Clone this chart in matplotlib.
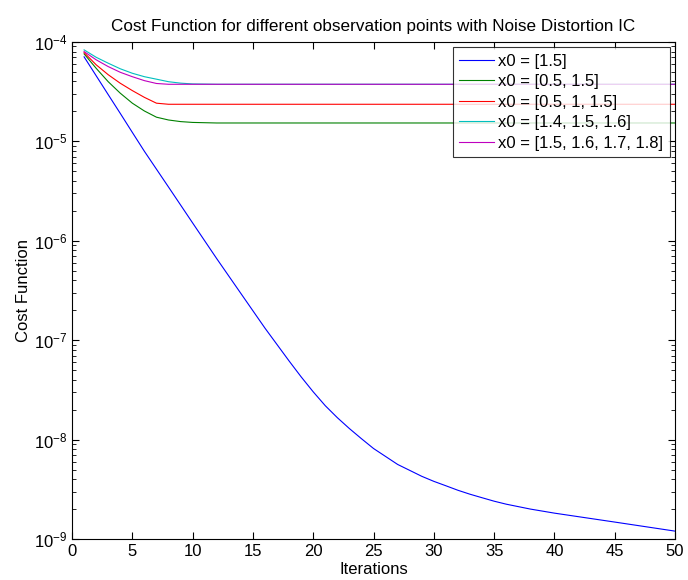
import matplotlib
matplotlib.use('Agg')
import matplotlib.pyplot as plt
from matplotlib.ticker import LogLocator, FixedLocator

plt.rcParams['font.family'] = ['Liberation Sans', 'DejaVu Sans']
plt.rcParams['mathtext.fontset'] = 'custom'
plt.rcParams['mathtext.rm'] = 'Liberation Sans'

it_blue = [1, 2, 3, 4, 5, 6, 7, 8, 9, 10, 12, 14, 16, 18, 19, 20, 21, 22, 23, 24, 25, 26, 27, 28, 29,
           30, 31, 32, 33, 34, 35, 36, 38, 40, 45, 50]
cost_blue = [7.08e-5, 4.57e-5, 2.95e-5, 1.91e-5, 1.23e-5, 7.94e-6, 5.25e-6, 3.47e-6, 2.29e-6, 1.51e-6,
             6.6e-7, 2.95e-7, 1.32e-7, 6.17e-8, 4.27e-8, 3.02e-8, 2.19e-8, 1.66e-8, 1.29e-8, 1.02e-8,
             8.13e-9, 6.76e-9, 5.62e-9, 4.9e-9, 4.27e-9, 3.8e-9, 3.43e-9, 3.09e-9, 2.82e-9, 2.6e-9,
             2.4e-9, 2.24e-9, 2.0e-9, 1.82e-9, 1.48e-9, 1.2e-9]

it_green = [1, 2, 3, 4, 5, 6, 7, 8, 9, 10, 12, 20, 30, 40, 50]
cost_green = [7.59e-5, 5.43e-5, 3.98e-5, 3.05e-5, 2.42e-5, 2.02e-5, 1.75e-5, 1.64e-5, 1.58e-5, 1.55e-5,
              1.53e-5, 1.53e-5, 1.53e-5, 1.53e-5, 1.53e-5]

it_red = [1, 2, 3, 4, 5, 6, 7, 8, 10, 20, 30, 40, 50]
cost_red = [7.82e-5, 5.89e-5, 4.68e-5, 3.84e-5, 3.24e-5, 2.77e-5, 2.42e-5, 2.36e-5, 2.36e-5,
            2.36e-5, 2.36e-5, 2.36e-5, 2.36e-5]

it_cyan = [1, 2, 3, 4, 5, 6, 7, 8, 9, 10, 12, 20, 30, 40, 50]
cost_cyan = [8.32e-5, 7.01e-5, 6.11e-5, 5.37e-5, 4.84e-5, 4.47e-5, 4.22e-5, 3.98e-5, 3.85e-5, 3.78e-5,
             3.75e-5, 3.75e-5, 3.75e-5, 3.75e-5, 3.75e-5]

it_mag = [1, 2, 3, 4, 5, 6, 7, 8, 10, 20, 30, 40, 50]
cost_mag = [8.0e-5, 6.61e-5, 5.65e-5, 4.95e-5, 4.47e-5, 4.08e-5, 3.82e-5, 3.75e-5, 3.75e-5,
            3.75e-5, 3.75e-5, 3.75e-5, 3.75e-5]

labels = ['x0 = [1.5]', 'x0 = [0.5, 1.5]', 'x0 = [0.5, 1, 1.5]',
          'x0 = [1.4, 1.5, 1.6]', 'x0 = [1.5, 1.6, 1.7, 1.8]']

fig = plt.figure(figsize=(6.88, 5.8), dpi=100)
ax = fig.add_axes([0.1047, 0.0707, 0.8765, 0.857])

lw = 0.8
ax.semilogy(it_blue, cost_blue, color=(0, 0, 1), lw=lw, label=labels[0])
ax.semilogy(it_green, cost_green, color=(0, 0.5, 0), lw=lw, label=labels[1])
ax.semilogy(it_red, cost_red, color=(1, 0, 0), lw=lw, label=labels[2])
ax.semilogy(it_cyan, cost_cyan, color=(0, 0.75, 0.75), lw=lw, label=labels[3])
ax.semilogy(it_mag, cost_mag, color=(0.75, 0, 0.75), lw=lw, label=labels[4])

ax.set_xlim(0, 50)
ax.set_ylim(1e-9, 1e-4)
ax.xaxis.set_major_locator(FixedLocator(range(0, 51, 5)))
ax.yaxis.set_major_locator(LogLocator(base=10, numticks=10))
ax.yaxis.set_minor_locator(LogLocator(base=10, subs=range(2, 10), numticks=10))
ax.tick_params(which='both', direction='in', top=True, right=True, labelsize=12)
ax.tick_params(which='major', length=5, width=0.8)
ax.tick_params(which='minor', length=3, width=0.6)
for s in ax.spines.values():
    s.set_linewidth(0.8)

ax.set_title('Cost Function for different observation points with Noise Distortion IC', fontsize=12.3, pad=8)
ax.set_xlabel('Iterations', fontsize=12, labelpad=2)
ax.set_ylabel('Cost Function', fontsize=12, labelpad=2)

leg = ax.legend(loc='upper right', fontsize=12, frameon=True, fancybox=False, borderaxespad=0.3,
                handlelength=2.1, handletextpad=0.25, borderpad=0.4, labelspacing=0.33)
leg.get_frame().set_edgecolor('black')
leg.get_frame().set_linewidth(0.8)

plt.savefig('out.png', dpi=100)
